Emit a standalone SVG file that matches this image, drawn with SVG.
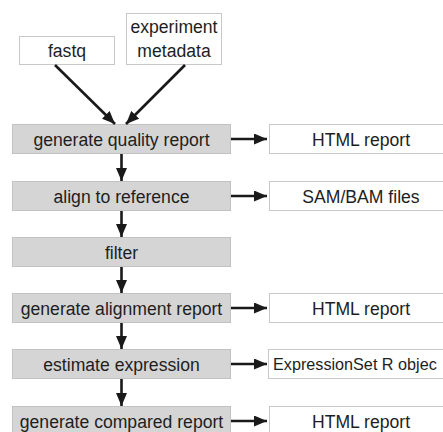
<svg xmlns="http://www.w3.org/2000/svg" width="443" height="432" viewBox="0 0 443 432">
<defs>
<style>
.t{font-family:"Liberation Sans","Noto Sans",sans-serif;font-size:17.6px;fill:#1e1e1e;text-anchor:middle}
.step{fill:#d5d5d5;stroke:#c2c2c2;stroke-width:1}
.out{fill:#fff;stroke:#c8c8c8;stroke-width:1}
.in{fill:#fff;stroke:#c8c8c8;stroke-width:1}
.c{stroke:#1a1a1a;stroke-width:2.6;fill:none}
</style>
<marker id="ah" viewBox="0 0 13 11" refX="13" refY="5.5" markerWidth="13" markerHeight="11" markerUnits="userSpaceOnUse" orient="auto">
<path d="M0,0 L13,5.5 L0,11 Z" fill="#1a1a1a"/>
</marker>
</defs>
<rect width="443" height="432" fill="#fff"/>
<g id="fastq"><rect class="in" x="19.5" y="36.5" width="95" height="28"/><text class="t" x="67" y="57">fastq</text></g>
<g id="metadata"><rect class="in" x="126.5" y="13.5" width="95" height="51"/><text class="t" x="174" y="33">experiment</text><text class="t" x="174" y="57">metadata</text></g>
<g id="s1"><rect class="step" x="12.5" y="124.5" width="218" height="29"/><text class="t" x="121.5" y="145.5">generate quality report</text></g>
<g id="s2"><rect class="step" x="12.5" y="181.5" width="218" height="29"/><text class="t" x="121.5" y="202.5">align to reference</text></g>
<g id="s3"><rect class="step" x="12.5" y="237.5" width="218" height="29"/><text class="t" x="121.5" y="258.5">filter</text></g>
<g id="s4"><rect class="step" x="12.5" y="293.5" width="218" height="29"/><text class="t" x="121.5" y="314.5">generate alignment report</text></g>
<g id="s5"><rect class="step" x="12.5" y="349.5" width="218" height="29"/><text class="t" x="121.5" y="370.5">estimate expression</text></g>
<g id="s6"><rect class="step" x="12.5" y="406.5" width="218" height="32"/><text class="t" x="121.5" y="427.5">generate compared report</text></g>
<g id="o1"><rect class="out" x="269.5" y="124.5" width="190" height="29"/><text class="t" x="361" y="145.5">HTML report</text></g>
<g id="o2"><rect class="out" x="269.5" y="181.5" width="190" height="29"/><text class="t" x="361" y="202.5">SAM/BAM files</text></g>
<g id="o4"><rect class="out" x="269.5" y="293.5" width="190" height="29"/><text class="t" x="361" y="314.5">HTML report</text></g>
<g id="o5"><rect class="out" x="268.5" y="349.5" width="190" height="29"/><text class="t" x="273" y="370" style="text-anchor:start;font-size:16.2px">ExpressionSet R objec</text></g>
<g id="o6"><rect class="out" x="269.5" y="406.5" width="190" height="32"/><text class="t" x="361" y="427.5">HTML report</text></g>
<g id="connectors">
<line class="c" x1="55" y1="65" x2="115" y2="124" marker-end="url(#ah)"/>
<line class="c" x1="185" y1="65" x2="126" y2="124" marker-end="url(#ah)"/>
<line class="c" x1="121.5" y1="154" x2="121.5" y2="181" marker-end="url(#ah)"/>
<line class="c" x1="121.5" y1="211" x2="121.5" y2="237" marker-end="url(#ah)"/>
<line class="c" x1="121.5" y1="267" x2="121.5" y2="293" marker-end="url(#ah)"/>
<line class="c" x1="121.5" y1="323" x2="121.5" y2="349" marker-end="url(#ah)"/>
<line class="c" x1="121.5" y1="379" x2="121.5" y2="406" marker-end="url(#ah)"/>
<line class="c" x1="231" y1="139" x2="267" y2="139" marker-end="url(#ah)"/>
<line class="c" x1="231" y1="196" x2="267" y2="196" marker-end="url(#ah)"/>
<line class="c" x1="231" y1="308" x2="267" y2="308" marker-end="url(#ah)"/>
<line class="c" x1="231" y1="364" x2="267" y2="364" marker-end="url(#ah)"/>
<line class="c" x1="231" y1="421" x2="267" y2="421" marker-end="url(#ah)"/>
</g>
</svg>
